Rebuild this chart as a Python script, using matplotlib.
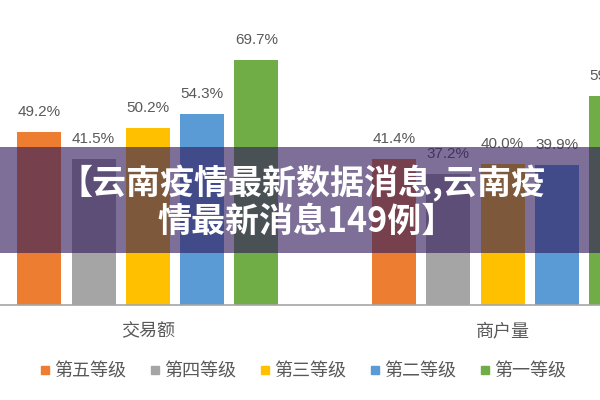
import matplotlib
matplotlib.use('Agg')
import matplotlib.pyplot as plt
from matplotlib.patches import Rectangle
from matplotlib.lines import Line2D
import numpy as np

plt.rcParams['font.family'] = ['Liberation Sans', 'Noto Sans CJK SC', 'DejaVu Sans']

categories = ['交易额', '商户量']
series_names = ['第五等级', '第四等级', '第三等级', '第二等级', '第一等级']
values = {
    '第五等级': [49.2, 41.4],
    '第四等级': [41.5, 37.2],
    '第三等级': [50.2, 40.0],
    '第二等级': [54.3, 39.9],
    '第一等级': [69.7, 59.4],
}
colors = ['#ED7D31', '#A5A5A5', '#FFC000', '#5B9BD5', '#70AD47']
banner_lines = ['【云南疫情最新数据消息,云南疫', '情最新消息149例】']

textgray = '#595959'

fig = plt.figure(figsize=(6, 4), dpi=100)
# axes is wider than the figure: the right group is cut off like in the source
ax = fig.add_axes([-29.5/600, 1-305/400, 709.4/600, 305/400])

x = np.arange(len(categories))
step = 0.153
width = 0.124
for j, name in enumerate(series_names):
    xs = x + (j-2)*step
    bars = ax.bar(xs, values[name], width=width, color=colors[j], zorder=2)
    for xi, v in zip(xs, values[name]):
        ax.annotate('%.1f%%' % v, (xi, v), xytext=(0, 11.5), textcoords='offset points',
                    ha='center', va='baseline', fontsize=11, color=textgray)

ax.set_xlim(-0.5, 1.5)
ax.set_ylim(0, 305/3.52)
for s in ['left', 'right', 'top']:
    ax.spines[s].set_visible(False)
ax.spines['bottom'].set_color('#A6A6A6')
ax.spines['bottom'].set_linewidth(1.2)
ax.set_yticks([])
ax.set_xticks(x)
ax.set_xticklabels(categories, fontsize=13, color=textgray)
ax.tick_params(axis='x', length=0, pad=13)
ax.patch.set_alpha(0)

handles = [Line2D([], [], marker='s', linestyle='none', markersize=6,
                  markerfacecolor=c, markeredgecolor=c) for c in colors]
fig.legend(handles, series_names, loc='center', bbox_to_anchor=(303/600, 1-372/400),
           ncol=5, frameon=False, fontsize=13, labelcolor=textgray,
           handlelength=0.6, handletextpad=0.2, columnspacing=1.3)

# translucent banner over the chart
fig.patches.append(Rectangle((0, 1-253/400), 1, 106/400, transform=fig.transFigure,
                             facecolor='#351E5E', alpha=0.64, zorder=10))
fig.text(302/600, 1-183/400, banner_lines[0], ha='center', va='center', fontsize=24.5,
         fontweight='bold', color='white', family=['Noto Sans CJK SC', 'DejaVu Sans'], zorder=11)
fig.text(307/600, 1-221/400, banner_lines[1], ha='center', va='center', fontsize=24.5,
         fontweight='bold', color='white', family=['Noto Sans CJK SC', 'DejaVu Sans'], zorder=11)

fig.savefig('out.png', dpi=100)
